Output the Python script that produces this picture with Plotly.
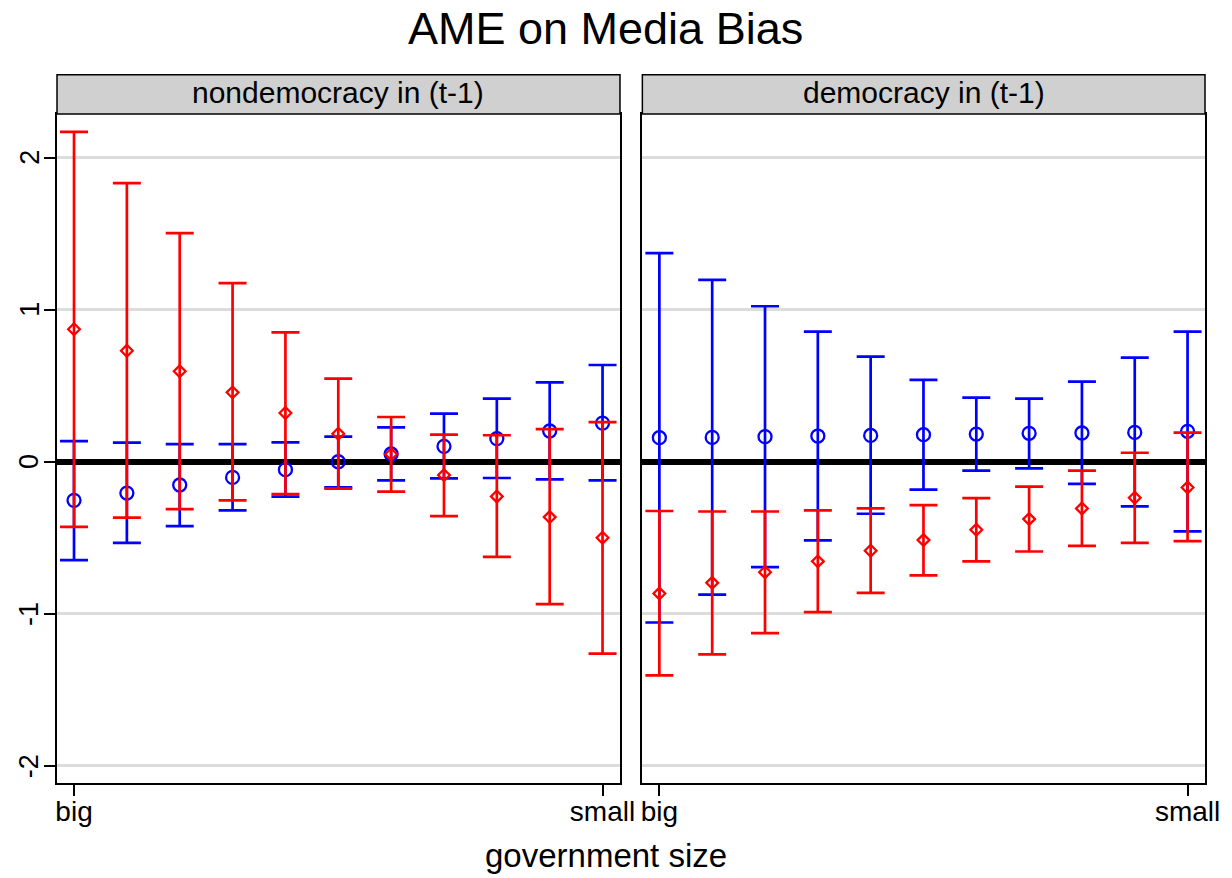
import plotly.graph_objects as go

# ---------------- data ----------------
positions = list(range(1, 12))
tick_vals = [1, 11]
tick_text = ["big", "small"]
y_tick_vals = [-2, -1, 0, 1, 2]
y_tick_text = ["-2", "-1", "0", "1", "2"]
panel_titles = ["nondemocracy in (t-1)", "democracy in (t-1)"]

# nondemocracy in (t-1)
blue_est_nd = [-0.254, -0.206, -0.153, -0.103, -0.052, 0.000, 0.051, 0.101, 0.152, 0.202, 0.254]
blue_lo_nd = [-0.647, -0.533, -0.423, -0.320, -0.230, -0.169, -0.123, -0.109, -0.107, -0.116, -0.123]
blue_hi_nd = [0.136, 0.125, 0.116, 0.116, 0.127, 0.165, 0.226, 0.316, 0.415, 0.522, 0.636]
red_est_nd = [0.871, 0.730, 0.595, 0.456, 0.320, 0.184, 0.049, -0.088, -0.228, -0.364, -0.500]
red_lo_nd = [-0.428, -0.368, -0.311, -0.254, -0.212, -0.177, -0.197, -0.357, -0.625, -0.936, -1.261]
red_hi_nd = [2.169, 1.832, 1.503, 1.174, 0.851, 0.546, 0.294, 0.178, 0.174, 0.215, 0.261]

# democracy in (t-1)
blue_est_d = [0.158, 0.160, 0.165, 0.169, 0.173, 0.178, 0.182, 0.187, 0.189, 0.193, 0.200]
blue_lo_d = [-1.057, -0.873, -0.693, -0.517, -0.342, -0.184, -0.059, -0.044, -0.145, -0.294, -0.458]
blue_hi_d = [1.371, 1.195, 1.022, 0.855, 0.691, 0.538, 0.421, 0.415, 0.526, 0.684, 0.855]
red_est_d = [-0.866, -0.796, -0.726, -0.655, -0.585, -0.515, -0.447, -0.377, -0.307, -0.237, -0.169]
red_lo_d = [-1.405, -1.267, -1.127, -0.989, -0.862, -0.747, -0.655, -0.590, -0.553, -0.533, -0.522]
red_hi_d = [-0.324, -0.327, -0.327, -0.320, -0.307, -0.285, -0.239, -0.164, -0.059, 0.059, 0.191]

BLUE = "#0000FF"
RED = "#FF0000"
FONT = "Liberation Sans, Arial, sans-serif"

fig = go.Figure()


def add_series(est, lo, hi, color, symbol, size, xa, ya):
    plus = [h - e for h, e in zip(hi, est)]
    minus = [e - l for e, l in zip(est, lo)]
    fig.add_trace(go.Scatter(
        x=positions, y=est, mode="markers", xaxis=xa, yaxis=ya,
        marker=dict(symbol=symbol, size=size, color=color,
                    line=dict(color=color, width=2.3)),
        error_y=dict(type="data", symmetric=False, array=plus, arrayminus=minus,
                     color=color, thickness=2.7, width=14),
        showlegend=False, hoverinfo="skip",
    ))


add_series(blue_est_nd, blue_lo_nd, blue_hi_nd, BLUE, "circle-open", 13, "x", "y")
add_series(red_est_nd, red_lo_nd, red_hi_nd, RED, "diamond-open", 9, "x", "y")
add_series(blue_est_d, blue_lo_d, blue_hi_d, BLUE, "circle-open", 13, "x2", "y2")
add_series(red_est_d, red_lo_d, red_hi_d, RED, "diamond-open", 9, "x2", "y2")

xrange = [0.678, 11.33]
yrange = [-2.112, 2.286]

common_x = dict(range=xrange, tickmode="array", tickvals=tick_vals, ticktext=tick_text,
                ticks="outside", ticklen=11, tickwidth=1.5, tickcolor="black",
                ticklabelstandoff=-8, automargin=False,
                showline=True, mirror=True, linecolor="black", linewidth=1.5,
                showgrid=False, zeroline=False,
                tickfont=dict(family=FONT, size=28, color="black"))
common_y = dict(range=yrange, tickmode="array", tickvals=y_tick_vals,
                showline=True, mirror=True, linecolor="black", linewidth=1.5,
                showgrid=True, gridcolor="#dcdcdc", gridwidth=2.5, automargin=False,
                zeroline=True, zerolinecolor="black", zerolinewidth=6,
                showticklabels=False)

fig.update_layout(
    width=1232, height=878,
    margin=dict(l=57, r=27, t=114, b=95),
    paper_bgcolor="white", plot_bgcolor="white",
    font=dict(family=FONT, color="black"),
    xaxis=dict(domain=[0, 0.4904], anchor="y", **common_x),
    xaxis2=dict(domain=[0.5099, 1], anchor="y2", **common_x),
    yaxis=dict(domain=[0, 1], anchor="x", ticks="outside", ticklen=11, tickwidth=1.5,
               tickcolor="black", **common_y),
    yaxis2=dict(domain=[0, 1], anchor="x2", ticks="", **common_y),
)

# rotated y tick labels (R style), placed at the axis values
for v, t in zip(y_tick_vals, y_tick_text):
    fig.add_annotation(xref="paper", yref="y", x=-0.0242, y=v, text=t, textangle=-90,
                       showarrow=False, xanchor="center", yanchor="middle",
                       font=dict(family=FONT, size=27, color="black"))

strip_top = 1.0588
for xr, title in zip(["x domain", "x2 domain"], panel_titles):
    fig.add_shape(type="rect", xref=xr, yref="paper", x0=0, x1=1, y0=1, y1=strip_top,
                  fillcolor="#d0d0d0", line=dict(color="black", width=1.5), layer="above")
    fig.add_annotation(xref=xr, yref="paper", x=0.5, y=(1 + strip_top) / 2 + 0.003,
                       text=title, showarrow=False, xanchor="center", yanchor="middle",
                       font=dict(family=FONT, size=30, color="black"))

fig.add_annotation(xref="paper", yref="paper", x=0.478, y=1.128, text="AME on Media Bias",
                   showarrow=False, xanchor="center", yanchor="middle",
                   font=dict(family=FONT, size=45, color="black"))
fig.add_annotation(xref="paper", yref="paper", x=0.478, y=-0.109, text="government size",
                   showarrow=False, xanchor="center", yanchor="middle",
                   font=dict(family=FONT, size=33, color="black"))

fig.write_html("out.html", config={"displayModeBar": False},
               post_script="document.body.style.margin='0px';")
